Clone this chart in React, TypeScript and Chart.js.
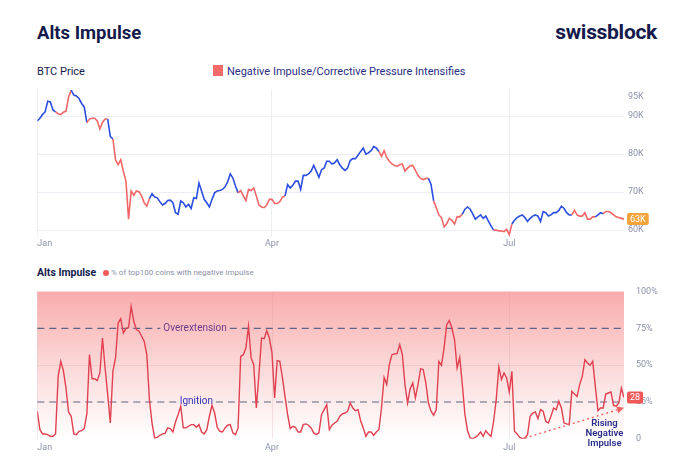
import React, { useEffect, useRef } from "react";
import { Chart, registerables } from "chart.js";

Chart.register(...registerables);

// ---------- DATA ----------
// Day index 0 = Jan 1; one value per day up to mid-August.
const monthTicks = [0, 90, 181];
const monthLabels = ["Jan", "Apr", "Jul"];

// BTC price in thousands of USD
const btcPrice = [
  88.7, 89.4, 90.4, 91.1, 93.9, 93.7, 91.6, 91.1, 90.6, 90.4,
  91.0, 91.3, 95.0, 96.8, 95.5, 95.3, 94.6, 93.3, 92.4, 88.3,
  89.2, 89.4, 89.4, 88.7, 86.6, 88.3, 89.2, 89.2, 84.6, 84.0,
  78.5, 77.2, 78.5, 75.5, 72.9, 62.9, 70.3, 69.2, 70.3, 70.1,
  69.0, 67.2, 66.3, 68.3, 69.6, 68.7, 68.5, 67.5, 66.6, 67.0,
  67.8, 67.9, 67.2, 64.6, 64.2, 67.7, 67.2, 66.1, 66.8, 65.7,
  68.5, 68.3, 72.4, 70.3, 68.1, 67.2, 66.1, 68.1, 69.8, 70.3,
  70.4, 70.7, 71.4, 72.7, 74.8, 73.7, 71.6, 69.8, 70.4, 69.0,
  67.8, 70.7, 70.4, 71.1, 69.0, 66.6, 66.1, 65.9, 66.6, 68.1,
  68.1, 67.0, 67.0, 67.5, 68.7, 69.0, 72.0, 71.1, 71.8, 72.9,
  72.9, 70.7, 74.4, 74.4, 74.8, 75.5, 77.0, 75.5, 73.9, 75.9,
  76.3, 78.1, 78.1, 77.4, 77.7, 78.5, 77.2, 76.3, 75.7, 76.3,
  78.3, 78.8, 78.8, 79.7, 80.7, 81.6, 80.0, 80.3, 80.9, 82.0,
  81.6, 80.7, 79.4, 80.9, 79.1, 78.1, 77.4, 77.0, 76.8, 77.2,
  77.4, 75.5, 76.3, 76.9, 77.0, 75.7, 74.4, 73.6, 73.3, 73.6,
  73.6, 72.0, 67.7, 65.9, 64.0, 63.3, 60.9, 61.7, 63.1, 62.6,
  61.6, 63.5, 63.5, 64.2, 65.5, 66.1, 65.5, 64.3, 62.9, 63.5,
  64.0, 63.1, 63.7, 62.4, 61.1, 60.0, 60.0, 59.8, 59.8, 59.6,
  60.2, 58.8, 61.6, 62.6, 63.3, 63.7, 64.0, 63.3, 62.3, 63.1,
  63.7, 64.0, 63.7, 62.3, 64.9, 64.6, 63.7, 64.0, 64.6, 64.6,
  65.2, 66.3, 65.7, 64.6, 64.0, 64.0, 65.2, 64.0, 63.7, 63.7,
  64.6, 62.9, 62.9, 63.5, 63.5, 64.0, 64.6, 64.3, 64.9, 64.9,
  64.6, 64.0, 63.5, 63.3, 63.1, 62.9,
];

// Segment ranges (start day inclusive, end day exclusive) shown in red
const negativeImpulseRanges = [
  [7, 13], [19, 27], [29, 43], [77, 95], [131, 150],
  [152, 163], [175, 182], [205, 214], [217, 226],
];

// % of top100 coins with negative impulse
const altsImpulse = [
  18.7, 6.2, 3.3, 3.3, 2.8, 1.7, 1.7, 3.3, 42.4, 52.6,
  46.3, 34.5, 18.2, 15.3, 3.3, 2.8, 5.1, 5.5, 6.9, 16.9,
  57.1, 40.8, 40.8, 39.5, 44.7, 68.4, 48.1, 30.0, 10.7, 45.8,
  54.9, 78.6, 81.6, 71.8, 74.8, 75.7, 89.9, 79.8, 74.1, 73.0,
  69.6, 66.2, 57.1, 26.6, 10.7, 0.6, 1.0, 2.4, 3.3, 3.7,
  7.4, 6.9, 4.6, 11.4, 16.4, 22.1, 7.4, 7.4, 8.5, 9.6,
  9.6, 7.8, 9.6, 4.6, 3.3, 6.2, 15.3, 22.7, 17.5, 7.8,
  5.1, 4.6, 7.4, 9.2, 9.6, 4.0, 2.8, 7.4, 56.0, 57.1,
  61.7, 76.4, 54.9, 50.3, 20.9, 43.6, 68.4, 68.0, 73.4, 68.4,
  58.3, 27.7, 53.1, 52.6, 41.7, 28.8, 16.4, 6.9, 8.5, 7.8,
  4.6, 4.6, 9.6, 10.1, 9.2, 7.4, 4.0, 2.8, 4.0, 16.4,
  19.8, 23.2, 6.2, 9.2, 10.7, 11.9, 15.3, 16.9, 17.5, 18.7,
  24.3, 20.9, 19.1, 19.8, 12.3, 7.4, 1.7, 4.6, 4.6, 2.4,
  4.6, 6.2, 20.9, 41.7, 36.8, 50.3, 57.1, 57.6, 58.0, 63.9,
  57.1, 36.8, 24.3, 34.0, 37.9, 27.7, 36.8, 47.6, 46.9, 37.9,
  24.3, 18.7, 16.0, 19.8, 52.6, 49.9, 61.7, 77.5, 80.2, 75.2,
  67.3, 48.1, 55.3, 36.8, 16.4, 5.5, 0.6, 0.1, 1.0, 2.4,
  4.6, 1.7, 5.5, 3.3, 1.7, 11.9, 26.6, 48.8, 40.2, 44.7,
  41.3, 31.8, 45.8, 5.1, 3.3, 1.0, 0.1, 0.6, 2.8, 15.3,
  17.5, 18.2, 13.7, 19.8, 18.7, 11.9, 10.7, 15.3, 20.9, 19.8,
  25.5, 20.9, 10.7, 10.1, 9.6, 32.2, 30.4, 28.8, 36.8, 42.4,
  53.7, 51.5, 49.9, 52.6, 35.6, 19.1, 20.9, 20.9, 30.4, 31.1,
  31.8, 22.7, 22.1, 24.3, 34.5, 28.0,
];

const priceTicks = [60, 70, 80, 90, 95];
const impulseTicks = [0, 25, 50, 75, 100];
const thresholds = [
  { value: 75, label: "Overextension", color: "#6e3b8e", day: 60.5 },
  { value: 25, label: "Ignition", color: "#3434b4", day: 61 },
];
const trendArrow = { from: [187, 0.5], to: [225, 21] };
const trendLabel = ["Rising", "Negative", "Impulse"];

// ---------- STYLE ----------
const FONT = "Roboto, 'Noto Sans', sans-serif";
const NAVY = "#151a4c";
const BLUE = "#2d4fe0";
const RED = "#f06868";
const IMPULSE_RED = "#e0404f";
const TICK_GRAY = "#8d92aa";
const GRID = "#ededf3";

const isNegative = (i: number) =>
  negativeImpulseRanges.some(([a, b]) => i >= a && i < b);

const xLabelsPlugin = (gap: number) => ({
  id: "xLabels",
  afterDraw(chart: any) {
    const { ctx, chartArea, scales } = chart;
    ctx.save();
    ctx.font = `9px ${FONT}`;
    ctx.fillStyle = TICK_GRAY;
    ctx.textBaseline = "middle";
    monthTicks.forEach((d, i) => {
      const x = scales.x.getPixelForValue(d);
      ctx.textAlign = i === 0 ? "left" : "center";
      ctx.fillText(monthLabels[i], x, chartArea.bottom + gap);
    });
    ctx.restore();
  },
});

const badgePlugin = (text: string, value: number, color: string) => ({
  id: "badge",
  afterDraw(chart: any) {
    const { ctx, chartArea, scales } = chart;
    const y = scales.y.getPixelForValue(value);
    ctx.save();
    ctx.font = `9px ${FONT}`;
    const w = ctx.measureText(text).width + 6;
    const h = 12;
    const x = chartArea.right + 3;
    ctx.fillStyle = color;
    ctx.beginPath();
    (ctx as any).roundRect(x, y - h / 2, w, h, 2);
    ctx.fill();
    ctx.fillStyle = "#ffffff";
    ctx.textAlign = "left";
    ctx.textBaseline = "middle";
    ctx.fillText(text, x + 3, y + 0.5);
    ctx.restore();
  },
});

const impulseDecorPlugin = {
  id: "impulseDecor",
  beforeDatasetsDraw(chart: any) {
    const { ctx, chartArea, scales } = chart;
    const { left, right, top, bottom } = chartArea;
    ctx.save();
    const g = ctx.createLinearGradient(0, top, 0, bottom);
    g.addColorStop(0, "rgba(249,172,172,1)");
    g.addColorStop(0.55, "rgba(252,220,220,1)");
    g.addColorStop(1, "rgba(255,255,255,1)");
    ctx.fillStyle = g;
    ctx.fillRect(left, top, right - left, bottom - top);
    // faint grid over the fill
    ctx.strokeStyle = "rgba(200,150,160,0.22)";
    ctx.lineWidth = 1;
    [50].forEach((v) => {
      const y = Math.round(scales.y.getPixelForValue(v)) + 0.5;
      ctx.beginPath();
      ctx.moveTo(left, y);
      ctx.lineTo(right, y);
      ctx.stroke();
    });
    monthTicks.forEach((d) => {
      const x = Math.round(scales.x.getPixelForValue(d)) + 0.5;
      ctx.beginPath();
      ctx.moveTo(x, top);
      ctx.lineTo(x, bottom);
      ctx.stroke();
    });
    // threshold dashed lines with labels
    thresholds.forEach((t) => {
      const y = scales.y.getPixelForValue(t.value);
      const cx = scales.x.getPixelForValue(t.day);
      ctx.font = `10px ${FONT}`;
      const tw = ctx.measureText(t.label).width;
      const gapL = cx - tw / 2 - 3;
      const gapR = cx + tw / 2 + 3;
      ctx.strokeStyle = "#5e6384";
      ctx.lineWidth = 1.2;
      ctx.setLineDash([7, 5]);
      ctx.beginPath();
      ctx.moveTo(left, y);
      ctx.lineTo(gapL, y);
      ctx.moveTo(gapR, y);
      ctx.lineTo(right, y);
      ctx.stroke();
      ctx.setLineDash([]);
      ctx.fillStyle = t.color;
      ctx.textAlign = "center";
      ctx.textBaseline = "middle";
      ctx.fillText(t.label, cx, y);
    });
    ctx.restore();
  },
  afterDatasetsDraw(chart: any) {
    const { ctx, scales } = chart;
    const x0 = scales.x.getPixelForValue(trendArrow.from[0]);
    const y0 = scales.y.getPixelForValue(trendArrow.from[1]);
    const x1 = scales.x.getPixelForValue(trendArrow.to[0]);
    const y1 = scales.y.getPixelForValue(trendArrow.to[1]);
    const ang = Math.atan2(y1 - y0, x1 - x0);
    const hl = 7;
    ctx.save();
    ctx.strokeStyle = "#f06262";
    ctx.fillStyle = "#f06262";
    ctx.lineWidth = 1.4;
    ctx.setLineDash([2, 3]);
    ctx.beginPath();
    ctx.moveTo(x0, y0);
    ctx.lineTo(x1 - hl * Math.cos(ang), y1 - hl * Math.sin(ang));
    ctx.stroke();
    ctx.setLineDash([]);
    ctx.beginPath();
    ctx.moveTo(x1, y1);
    ctx.lineTo(x1 - hl * Math.cos(ang) + 3.5 * Math.sin(ang), y1 - hl * Math.sin(ang) - 3.5 * Math.cos(ang));
    ctx.lineTo(x1 - hl * Math.cos(ang) - 3.5 * Math.sin(ang), y1 - hl * Math.sin(ang) + 3.5 * Math.cos(ang));
    ctx.closePath();
    ctx.fill();
    // label
    ctx.font = `600 9.5px ${FONT}`;
    ctx.fillStyle = "#2a2f8a";
    ctx.textAlign = "center";
    ctx.textBaseline = "middle";
    const lx = scales.x.getPixelForValue(217.5);
    const ly = scales.y.getPixelForValue(10);
    trendLabel.forEach((s, i) => ctx.fillText(s, lx, ly + i * 10));
    ctx.restore();
  },
};

function PriceChart() {
  const ref = useRef<HTMLCanvasElement>(null);
  useEffect(() => {
    if (!ref.current) return;
    const data = btcPrice.map((v, i) => ({ x: i, y: v }));
    const chart = new Chart(ref.current, {
      type: "line",
      data: {
        datasets: [
          {
            data,
            borderColor: BLUE,
            borderWidth: 1.6,
            pointRadius: 0,
            tension: 0,
            segment: {
              borderColor: (c: any) => (isNegative(c.p0DataIndex) ? RED : BLUE),
            },
          },
        ],
      },
      options: {
        animation: false,
        responsive: false,
        maintainAspectRatio: false,
        layout: { padding: { left: 37.3, top: 8, right: 0, bottom: 0 } },
        plugins: { legend: { display: false }, tooltip: { enabled: false } },
        scales: {
          x: {
            type: "linear",
            min: 0,
            max: btcPrice.length - 1,
            afterBuildTicks: (s: any) => {
              s.ticks = monthTicks.map((v) => ({ value: v }));
            },
            ticks: { display: false },
            grid: { color: GRID, drawTicks: false },
            border: { display: false },
            afterFit: (s: any) => {
              s.height = 13;
            },
          },
          y: {
            position: "right",
            min: 58.2,
            max: 97,
            afterBuildTicks: (s: any) => {
              s.ticks = priceTicks.map((v) => ({ value: v }));
            },
            ticks: {
              callback: (v: any) => `${v}K`,
              font: { family: FONT, size: 9 },
              color: TICK_GRAY,
              padding: 4,
            },
            grid: {
              color: (c: any) => (c.tick && c.tick.value === 95 ? "rgba(0,0,0,0)" : GRID),
              drawTicks: false,
            },
            border: { display: false },
            afterFit: (s: any) => {
              s.width = 55;
            },
          },
        },
      },
      plugins: [xLabelsPlugin(7), badgePlugin("63K", btcPrice[btcPrice.length - 1], "#f5a33b")],
    } as any);
    return () => chart.destroy();
  }, []);
  return (
    <canvas
      ref={ref}
      width={679}
      height={170}
      style={{ position: "absolute", left: 0, top: 80, width: 679, height: 170 }}
    />
  );
}

function ImpulseChart() {
  const ref = useRef<HTMLCanvasElement>(null);
  useEffect(() => {
    if (!ref.current) return;
    const data = altsImpulse.map((v, i) => ({ x: i, y: v }));
    const chart = new Chart(ref.current, {
      type: "line",
      data: {
        datasets: [
          {
            data,
            borderColor: IMPULSE_RED,
            borderWidth: 1.4,
            pointRadius: 0,
            tension: 0,
          },
        ],
      },
      options: {
        animation: false,
        responsive: false,
        maintainAspectRatio: false,
        layout: { padding: { left: 37.3, top: 9.5, right: 0, bottom: 0 } },
        plugins: { legend: { display: false }, tooltip: { enabled: false } },
        scales: {
          x: {
            type: "linear",
            min: 0,
            max: altsImpulse.length - 1,
            afterBuildTicks: (s: any) => {
              s.ticks = monthTicks.map((v) => ({ value: v }));
            },
            ticks: { display: false },
            grid: { display: false },
            border: { display: false },
            afterFit: (s: any) => {
              s.height = 18.2;
            },
          },
          y: {
            position: "right",
            min: 0,
            max: 100,
            afterBuildTicks: (s: any) => {
              s.ticks = impulseTicks.map((v) => ({ value: v }));
            },
            ticks: {
              callback: (v: any) => (v === 0 ? "0" : `${v}%`),
              font: { family: FONT, size: 9 },
              color: TICK_GRAY,
              padding: 4,
            },
            grid: { display: false },
            border: { display: false },
            afterFit: (s: any) => {
              s.width = 55;
            },
          },
        },
      },
      plugins: [
        impulseDecorPlugin,
        xLabelsPlugin(8.5),
        badgePlugin("28", altsImpulse[altsImpulse.length - 1], "#f25858"),
      ],
    } as any);
    return () => chart.destroy();
  }, []);
  return (
    <canvas
      ref={ref}
      width={679}
      height={175}
      style={{ position: "absolute", left: 0, top: 282, width: 679, height: 175 }}
    />
  );
}

function Txt(props: {
  x: number;
  cy: number;
  size: number;
  children: React.ReactNode;
  weight?: number;
  color?: string;
  right?: boolean;
  spacing?: number;
}) {
  const { x, cy, size, children, weight = 400, color = NAVY, right, spacing = 0 } = props;
  const style: React.CSSProperties = {
    position: "absolute",
    top: cy - size / 2,
    lineHeight: `${size}px`,
    fontSize: size,
    fontWeight: weight,
    color,
    fontFamily: FONT,
    whiteSpace: "nowrap",
    letterSpacing: spacing,
  };
  if (right) style.right = x;
  else style.left = x;
  return <div style={style}>{children}</div>;
}

export default function App() {
  return (
    <div
      style={{
        position: "fixed",
        left: 0,
        top: 0,
        width: 679,
        height: 469,
        background: "#ffffff",
        overflow: "hidden",
      }}
    >
      <Txt x={37} cy={33} size={18.5} weight={700}>Alts Impulse</Txt>
      <Txt x={22} cy={32} size={21} weight={700} right spacing={-0.3}>swissblock</Txt>
      <Txt x={37} cy={71} size={11}>BTC Price</Txt>
      <div
        style={{ position: "absolute", left: 213, top: 65, width: 10, height: 11, background: "#f26b6b" }}
      />
      <Txt x={227} cy={71} size={11} color="#2b2f84">
        Negative Impulse/Corrective Pressure Intensifies
      </Txt>
      <PriceChart />
      <Txt x={37} cy={273} size={10.5} weight={700}>Alts Impulse</Txt>
      <div
        style={{
          position: "absolute",
          left: 103,
          top: 270,
          width: 6,
          height: 6,
          borderRadius: 3,
          background: "#f05a5a",
        }}
      />
      <Txt x={111} cy={273} size={8} color="#8b8fa6">
        % of top100 coins with negative impulse
      </Txt>
      <ImpulseChart />
    </div>
  );
}
